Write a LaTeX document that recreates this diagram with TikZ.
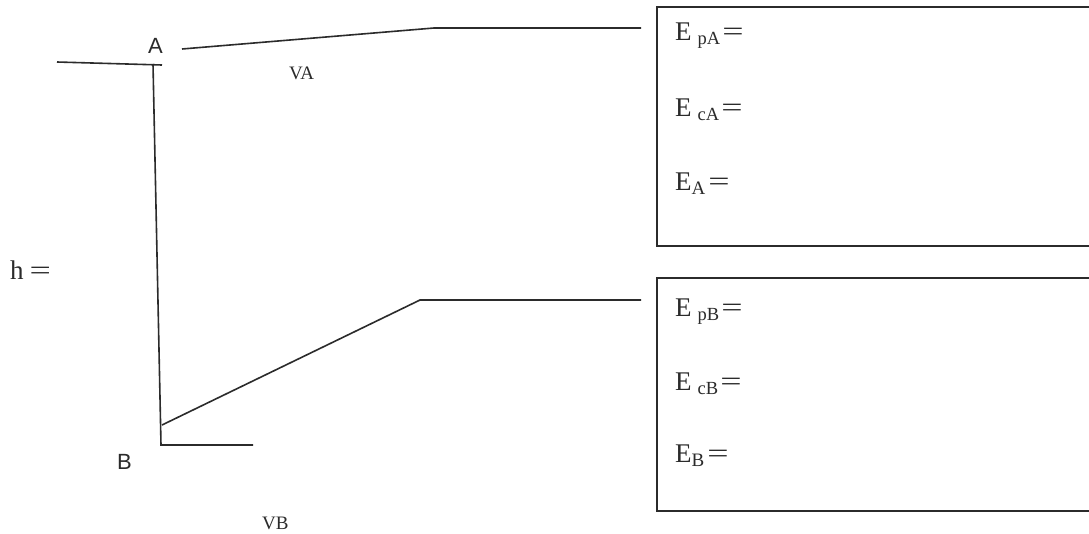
\documentclass[tikz,border=0pt]{standalone}
\usepackage{fontspec}
\setmainfont{Liberation Serif}
\newfontfamily\labsans{Liberation Sans}
\definecolor{ink}{HTML}{2B2B2B}
\newcommand{\eqw}{\scalebox{1.4}[1]{=}}
\newcommand{\Esub}[2]{E\hspace{6pt}{\fontsize{18.5}{18.5}\selectfont\raisebox{-4pt}{#1}}#2}
\begin{document}
\begin{tikzpicture}[x=1pt,y=-1pt,
  ln/.style={draw=ink, line width=1.6pt},
  boxst/.style={draw=ink, line width=1.9pt, anchor=north west, inner sep=0pt},
  etxt/.style={anchor=base west, inner sep=0pt, text=ink, font=\fontsize{27}{27}\selectfont},
  vtxt/.style={anchor=base west, inner sep=0pt, text=ink, font=\fontsize{19}{19}\selectfont},
  ptlab/.style={anchor=base west, inner sep=0pt, text=ink, font=\labsans\fontsize{22}{22}\selectfont}]
\useasboundingbox (0,0) rectangle (1089,533);
\clip (0,0) rectangle (1089,533);
\fill[white] (0,0) rectangle (1089,533);
% coordinates
\coordinate (tl) at (57,62);
\coordinate (tr) at (162,65);
\coordinate (vt) at (153,64);
\coordinate (vb) at (161,445);
\coordinate (br) at (253,445);
\coordinate (a1) at (182,49);
\coordinate (a2) at (434,28);
\coordinate (a3) at (641,28);
\coordinate (b1) at (162,425);
\coordinate (b2) at (420,300);
\coordinate (b3) at (641,300);
% track
\draw[ln] (tl) -- (tr);
\draw[ln] (vt) -- (vb) -- (br);
\draw[ln] (a1) -- (a2) -- (a3);
\draw[ln] (b1) -- (b2) -- (b3);
% boxes
\node[boxst, minimum width=460pt, minimum height=239pt] (boxA) at (656,6) {};
\node[boxst, minimum width=460pt, minimum height=233pt] (boxB) at (656,277) {};
% labels
\node[ptlab] (labA) at (148,53) {A};
\node[ptlab] (labB) at (117,469) {B};
\node[vtxt] (vA) at (289,79) {VA};
\node[vtxt] (vB) at (262,529) {VB};
\node[etxt] (h) at (10,279) {h\hspace{6pt}\eqw};
\node[etxt] (EpA) at (675,40) {\Esub{pA}{\hspace{2pt}\eqw}};
\node[etxt] (EcA) at (675,116) {\Esub{cA}{\hspace{2pt}\eqw}};
\node[etxt] (EA) at (675,190) {E{\fontsize{19}{19}\selectfont\raisebox{-4pt}{A}}\hspace{3pt}\eqw};
\node[etxt] (EpB) at (675,316) {\Esub{pB}{\hspace{2pt}\eqw}};
\node[etxt] (EcB) at (675,390) {\Esub{cB}{\hspace{2pt}\eqw}};
\node[etxt] (EB) at (675,462) {E{\fontsize{19}{19}\selectfont\raisebox{-4pt}{B}}\hspace{3pt}\eqw};
\end{tikzpicture}
\end{document}
